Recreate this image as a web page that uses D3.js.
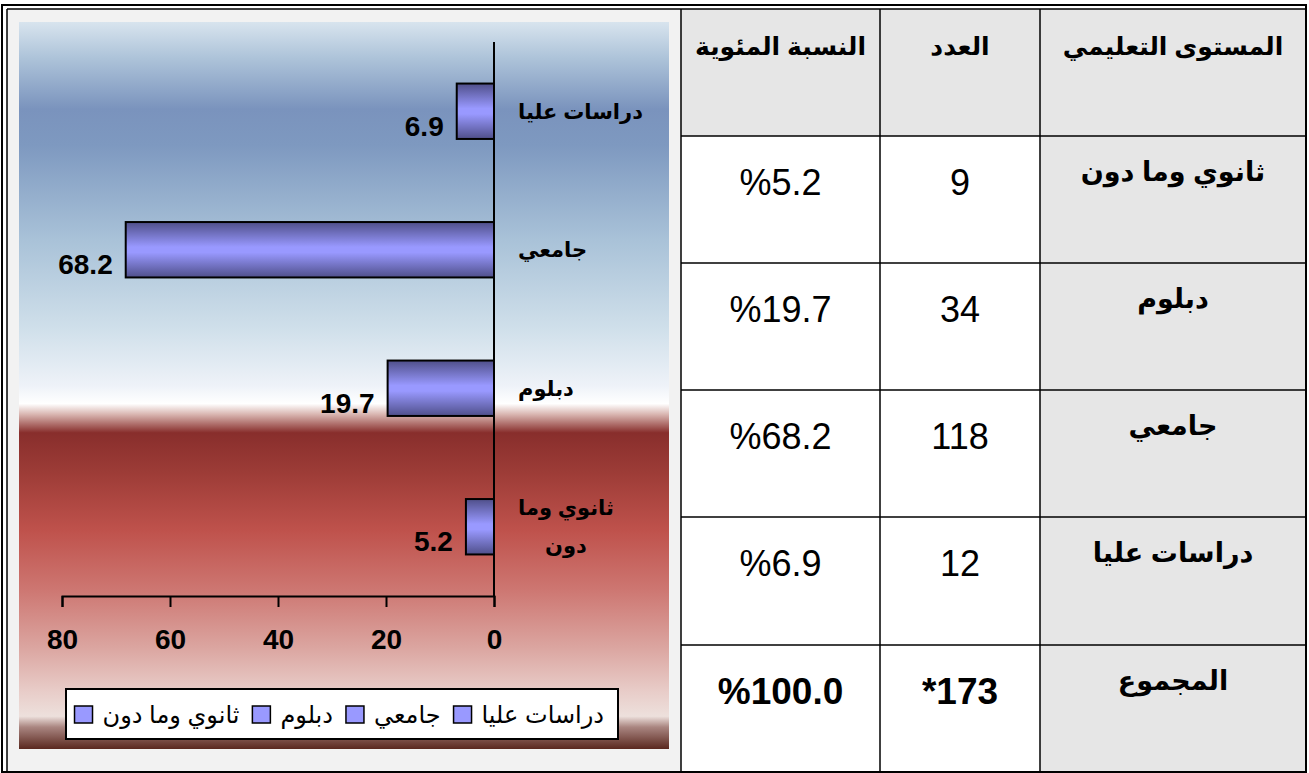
<!DOCTYPE html>
<html>
<head>
<meta charset="utf-8">
<script src="https://cdn.jsdelivr.net/npm/d3@7"></script>
<style>
  body { margin: 0; background: #fff; }
  svg text { font-family: "Liberation Sans", Arial, "DejaVu Sans", sans-serif; }
</style>
</head>
<body>
<svg id="page" width="1309" height="773"></svg>
<script>
// data
const levels = ["ثانوي وما دون", "دبلوم", "جامعي", "دراسات عليا"];
const counts = [9, 34, 118, 12];
const percents = [5.2, 19.7, 68.2, 6.9];
const headers = ["النسبة المئوية", "العدد", "المستوى التعليمي"];   // left to right
const totalLabel = "المجموع";
const totalCount = "*173";
const totalPercent = 100.0;
const xTicks = [0, 20, 40, 60, 80];

const svg = d3.select("#page");
const fmtPct = d => "%" + d3.format(".1f")(d);

// ---------- cell backgrounds ----------
const tableLeft = 681, tableRight = 1306, gridTop = 9, gridBottom = 771;
const colEdges = [681, 880, 1040, 1306];
const rowEdges = [9, 136, 263, 390, 517, 645, 771];

svg.append("rect").attr("x", 7).attr("y", gridTop).attr("width", tableLeft - 7).attr("height", gridBottom - gridTop)
    .attr("fill", "#f2f2f2");
svg.append("rect").attr("x", tableLeft).attr("y", gridTop).attr("width", tableRight - tableLeft).attr("height", gridBottom - gridTop)
    .attr("fill", "#fff");
svg.append("rect").attr("x", tableLeft).attr("y", rowEdges[0]).attr("width", tableRight - tableLeft).attr("height", rowEdges[1] - rowEdges[0])
    .attr("fill", "#e6e6e6");
svg.append("rect").attr("x", colEdges[2]).attr("y", gridTop).attr("width", colEdges[3] - colEdges[2]).attr("height", gridBottom - gridTop)
    .attr("fill", "#e6e6e6");

// ---------- chart ----------
const defs = svg.append("defs");
const bgStops = [
    [0, "#d8e4ee"], [0.05, "#adc3d9"], [0.12, "#7a93bd"], [0.17, "#7e99c0"], [0.30, "#a9c2d8"],
    [0.42, "#cfdfea"], [0.50, "#eef2f8"], [0.525, "#ffffff"], [0.54, "#d8b4af"], [0.565, "#882e2c"],
    [0.62, "#9d3c37"], [0.70, "#bf524c"], [0.78, "#cd7671"], [0.86, "#dba5a0"], [0.92, "#e8ccc8"],
    [0.955, "#ede0dc"], [0.97, "#a98580"], [1, "#5a281f"]
];
const bg = defs.append("linearGradient").attr("id", "plotBg").attr("x1", 0).attr("y1", 0).attr("x2", 0).attr("y2", 1);
bg.selectAll("stop").data(bgStops).join("stop")
    .attr("offset", d => d[0]).attr("stop-color", d => d[1]);

const barGrad = defs.append("linearGradient").attr("id", "barFill").attr("x1", 0).attr("y1", 0).attr("x2", 0).attr("y2", 1);
barGrad.selectAll("stop").data([[0, "#4f4f8a"], [0.45, "#9999ff"], [0.55, "#9999ff"], [1, "#4f4f8a"]]).join("stop")
    .attr("offset", d => d[0]).attr("stop-color", d => d[1]);

svg.append("rect").attr("x", 19).attr("y", 22).attr("width", 650).attr("height", 727)
    .attr("fill", "url(#plotBg)");

const x = d3.scaleLinear().domain([0, 80]).range([494, 62]);
const y = d3.scaleBand().domain(levels.slice().reverse()).range([42, 596])
    .paddingInner(0.6).paddingOuter(0.3);

const chart = svg.append("g");

chart.selectAll("rect.bar")
    .data(levels.map((l, i) => ({ level: l, value: percents[i] })))
    .join("rect")
    .attr("class", "bar")
    .attr("x", d => x(d.value))
    .attr("y", d => y(d.level))
    .attr("width", d => x(0) - x(d.value))
    .attr("height", y.bandwidth())
    .attr("fill", "url(#barFill)")
    .attr("stroke", "#000")
    .attr("stroke-width", 2);

// value labels
chart.selectAll("text.val")
    .data(levels.map((l, i) => ({ level: l, value: percents[i] })))
    .join("text")
    .attr("class", "val")
    .attr("x", d => x(d.value) - 13)
    .attr("y", d => y(d.level) + y.bandwidth() / 2 + 15)
    .attr("text-anchor", "end")
    .attr("dominant-baseline", "central")
    .attr("font-size", 28)
    .attr("font-weight", "bold")
    .text(d => d.value);

// vertical axis line (category axis)
chart.append("line").attr("x1", x(0)).attr("x2", x(0)).attr("y1", 42).attr("y2", 596)
    .attr("stroke", "#000").attr("stroke-width", 2);

// category labels, right of the axis
const cats = chart.selectAll("g.cat").data(levels).join("g").attr("class", "cat");
cats.each(function (l) {
    const g = d3.select(this);
    const words = l.split(" ");
    const lines = words.length > 2 ? [words.slice(0, -1).join(" "), words[words.length - 1]] : [l];
    const cy = y(l) + y.bandwidth() / 2;
    const lh = 38;
    const t = g.selectAll("text").data(lines).join("text")
        .attr("y", (d, i) => cy + (i - (lines.length - 1) / 2) * lh)
        .attr("dominant-baseline", "central")
        .attr("font-size", 21)
        .attr("font-weight", "bold")
        .text(d => d);
    // lines of a wrapped label are centred on each other
    const w0 = t.nodes()[0].getComputedTextLength();
    t.attr("text-anchor", "middle").attr("x", 518 + w0 / 2);
});

// value axis
const xAxis = chart.append("g")
    .attr("transform", "translate(0,596)")
    .call(d3.axisBottom(x).tickValues(xTicks).tickSizeOuter(0).tickSize(11).tickPadding(22));
xAxis.select(".domain").attr("stroke", "#000").attr("stroke-width", 2);
xAxis.selectAll(".tick line").attr("stroke", "#000").attr("stroke-width", 2);
xAxis.selectAll(".tick text")
    .attr("font-size", 28)
    .attr("font-weight", "bold")
    .attr("font-family", "\"Liberation Sans\", Arial, sans-serif")
    .attr("fill", "#000");

// legend
const legend = chart.append("g");
legend.append("rect").attr("x", 66).attr("y", 689).attr("width", 552).attr("height", 50)
    .attr("fill", "#fff").attr("stroke", "#000").attr("stroke-width", 2);
let cursor = 604;
levels.slice().reverse().forEach(l => {
    const t = legend.append("text")
        .attr("x", cursor).attr("y", 714)
        .attr("text-anchor", "end")
        .attr("dominant-baseline", "central")
        .attr("font-size", 24)
        .text(l);
    const w = t.node().getComputedTextLength();
    const sx = cursor - w - 10 - 18;
    legend.append("rect").attr("x", sx).attr("y", 706).attr("width", 18).attr("height", 17)
        .attr("fill", "#9999ff").attr("stroke", "#000").attr("stroke-width", 1.5);
    cursor = sx - 13;
});

// ---------- table ----------
const colCenter = i => (colEdges[i] + colEdges[i + 1]) / 2;
const table = svg.append("g");

table.selectAll("text.head").data(headers).join("text")
    .attr("class", "head")
    .attr("x", (d, i) => colCenter(i))
    .attr("y", rowEdges[0] + 37)
    .attr("text-anchor", "middle")
    .attr("dominant-baseline", "central")
    .attr("font-size", 25)
    .attr("font-weight", "bold")
    .text(d => d);

const rows = levels.map((l, i) => ({ level: l, count: counts[i], pct: percents[i] }));
rows.forEach((r, i) => {
    const t = rowEdges[i + 1];
    table.append("text").attr("x", colCenter(0)).attr("y", t + 46)
        .attr("text-anchor", "middle").attr("dominant-baseline", "central")
        .attr("font-size", 36).text(fmtPct(r.pct));
    table.append("text").attr("x", colCenter(1)).attr("y", t + 46)
        .attr("text-anchor", "middle").attr("dominant-baseline", "central")
        .attr("font-size", 36).text(r.count);
    table.append("text").attr("x", colCenter(2)).attr("y", t + 36)
        .attr("text-anchor", "middle").attr("dominant-baseline", "central")
        .attr("font-size", 27).attr("font-weight", "bold").text(r.level);
});
const tt = rowEdges[5];
table.append("text").attr("x", colCenter(0)).attr("y", tt + 46)
    .attr("text-anchor", "middle").attr("dominant-baseline", "central")
    .attr("font-size", 37).attr("font-weight", "bold").text(fmtPct(totalPercent));
table.append("text").attr("x", colCenter(1)).attr("y", tt + 46)
    .attr("text-anchor", "middle").attr("dominant-baseline", "central")
    .attr("font-size", 37).attr("font-weight", "bold").text(totalCount);
table.append("text").attr("x", colCenter(2)).attr("y", tt + 36)
    .attr("text-anchor", "middle").attr("dominant-baseline", "central")
    .attr("font-size", 27).attr("font-weight", "bold").text(totalLabel);

// grid lines
const grid = svg.append("g").attr("stroke", "#000").attr("fill", "none");
colEdges.slice(0, 3).forEach(cx => {
    grid.append("line").attr("x1", cx).attr("x2", cx).attr("y1", gridTop).attr("y2", gridBottom).attr("stroke-width", 1.5);
});
rowEdges.slice(1, -1).forEach(ry => {
    grid.append("line").attr("x1", tableLeft).attr("x2", tableRight).attr("y1", ry).attr("y2", ry).attr("stroke-width", 1.5);
});
// outer border: double on top and left
grid.append("rect").attr("x", 2).attr("y", 5).attr("width", 1304).attr("height", 767).attr("stroke-width", 2);
grid.append("line").attr("x1", 7).attr("x2", 1306).attr("y1", 9).attr("y2", 9).attr("stroke-width", 1.5);
grid.append("line").attr("x1", 7).attr("x2", 7).attr("y1", 9).attr("y2", 772).attr("stroke-width", 1.5);
</script>
</body>
</html>
